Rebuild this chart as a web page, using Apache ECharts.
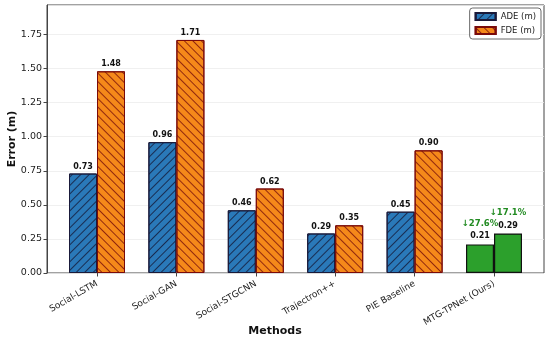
<!DOCTYPE html>
<html>
<head>
<meta charset="utf-8">
<script src="https://cdn.jsdelivr.net/npm/echarts@6/dist/echarts.min.js"></script>
<style>html,body{margin:0;padding:0;background:#fff}#c{width:550px;height:344px}</style>
</head>
<body>
<div id="c"></div>
<script>
var methods = ['Social-LSTM', 'Social-GAN', 'Social-STGCNN', 'Trajectron++', 'PIE Baseline', 'MTG-TPNet (Ours)'];
var ade = [0.73, 0.96, 0.46, 0.29, 0.45, 0.21];
var fde = [1.48, 1.71, 0.62, 0.35, 0.90, 0.29];
var improvements = ['↓27.6%', '↓17.1%'];
var yTicks = [0, 0.25, 0.5, 0.75, 1.0, 1.25, 1.5, 1.75];

var YMAX = 1.9665;
var FONT = 'DejaVu Sans';
var green = '#2ca02c';

var adeDecal = {symbol: 'rect', symbolSize: 1, dashArrayX: [1, 0], dashArrayY: [1, 5], rotation: -Math.PI / 4, color: 'rgba(20,25,55,0.8)'};
var fdeDecal = {symbol: 'rect', symbolSize: 1, dashArrayX: [1, 0], dashArrayY: [1, 5], rotation: Math.PI / 4, color: 'rgba(120,15,10,0.8)'};

function buildData(vals, impIdx, decal) {
  return vals.map(function (v, i) {
    if (i === vals.length - 1) {
      return {
        value: v,
        itemStyle: {color: green, borderColor: '#111', borderWidth: 1.2},
        label: {
          formatter: '{g|' + improvements[impIdx] + '}\n{v|' + v.toFixed(2) + '}'
        }
      };
    }
    return {value: v, itemStyle: {decal: decal}};
  });
}

var chart = echarts.init(document.getElementById('c'), null, {renderer: 'canvas'});
var labelRich = {
  g: {color: '#228b22', fontWeight: 'bold', fontSize: 8.5, fontFamily: FONT, lineHeight: 16},
  v: {color: '#111', fontWeight: 'bold', fontSize: 8, fontFamily: FONT, lineHeight: 10}
};
var adeStyle = {color: '#2a79b9', borderColor: '#1a1a3a', borderWidth: 1};
var fdeStyle = {color: '#f5891a', borderColor: '#7a0a0a', borderWidth: 1};
chart.setOption({
  animation: false,
  textStyle: {fontFamily: FONT},
  grid: [
    {left: 47, right: 6, top: 5, bottom: 71, show: true, borderColor: '#444', borderWidth: 1, backgroundColor: 'transparent', outerBoundsMode: 'none', containLabel: false},
    {left: 57.3, right: 16.3, top: 5, bottom: 71, outerBoundsMode: 'none', containLabel: false}
  ],
  xAxis: [
    {gridIndex: 0, type: 'category', data: ['a'], show: false},
    {gridIndex: 1, type: 'category', data: methods, boundaryGap: true,
      axisLine: {show: false},
      axisTick: {show: true, alignWithLabel: true, length: 3.5, lineStyle: {color: '#444'}},
      axisLabel: {rotate: 30, fontSize: 9, color: '#222', margin: 10, fontFamily: FONT, interval: 0}
    }
  ],
  yAxis: [
    {gridIndex: 0, type: 'value', min: 0, max: YMAX, interval: 0.25,
      axisLine: {show: true, lineStyle: {color: '#444'}},
      axisTick: {show: true, length: 3.5, lineStyle: {color: '#444'}},
      axisLabel: {fontSize: 9.5, color: '#222', margin: 5, fontFamily: FONT,
        formatter: function (v) { return yTicks.indexOf(v) >= 0 || Math.abs(v % 0.25) < 1e-9 ? v.toFixed(2) : ''; },
        showMaxLabel: false},
      splitLine: {show: true, lineStyle: {color: '#ececec', width: 0.8}}
    },
    {gridIndex: 1, type: 'value', min: 0, max: YMAX, show: false}
  ],
  legend: {
    right: 9, top: 8, orient: 'vertical', itemWidth: 20, itemHeight: 7, itemGap: 5,
    padding: [4, 5, 4, 5], borderColor: '#444', borderWidth: 0.8, borderRadius: 3,
    backgroundColor: '#fff', icon: 'rect',
    textStyle: {fontSize: 8.5, color: '#222', fontFamily: FONT},
    data: ['ADE (m)', 'FDE (m)']
  },
  series: [
    {name: 'ADE (m)', type: 'bar', xAxisIndex: 0, yAxisIndex: 0, data: [],
      itemStyle: Object.assign({decal: adeDecal}, adeStyle)},
    {name: 'FDE (m)', type: 'bar', xAxisIndex: 0, yAxisIndex: 0, data: [],
      itemStyle: Object.assign({decal: fdeDecal}, fdeStyle)},
    {name: 'ADE', type: 'bar', xAxisIndex: 1, yAxisIndex: 1, barWidth: 28, barGap: '0%',
      itemStyle: adeStyle,
      label: {show: true, position: 'top', distance: 3, fontSize: 8, fontWeight: 'bold', color: '#111', fontFamily: FONT,
        formatter: function (p) { return p.value.toFixed(2); }, rich: labelRich},
      data: buildData(ade, 0, adeDecal)
    },
    {name: 'FDE', type: 'bar', xAxisIndex: 1, yAxisIndex: 1, barWidth: 28, barGap: '0%',
      itemStyle: fdeStyle,
      label: {show: true, position: 'top', distance: 3, fontSize: 8, fontWeight: 'bold', color: '#111', fontFamily: FONT,
        formatter: function (p) { return p.value.toFixed(2); }, rich: labelRich},
      data: buildData(fde, 1, fdeDecal)
    }
  ],
  graphic: [
    {type: 'text', left: 'center', x: 0, top: 326, style: {text: 'Methods', font: 'bold 11px "DejaVu Sans"', fill: '#111'}},
    {type: 'text', x: 12, y: 139, rotation: Math.PI / 2, style: {text: 'Error (m)', font: 'bold 11px "DejaVu Sans"', fill: '#111', align: 'center', verticalAlign: 'middle'}}
  ]
});
</script>
</body>
</html>
